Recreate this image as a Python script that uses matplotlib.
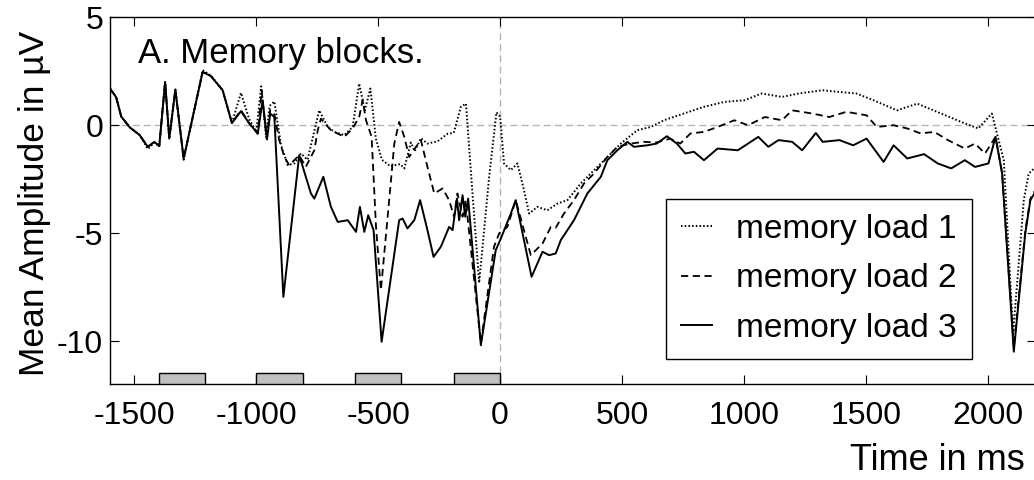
import matplotlib
matplotlib.use("Agg")
import matplotlib.pyplot as plt

plt.rcParams['font.family'] = ['Liberation Sans', 'DejaVu Sans']
plt.rcParams['axes.unicode_minus'] = False

# memory load 1 (dotted): time in ms, amplitude in uV
t_load1 = [-1600, -1575, -1554, -1519, -1479, -1445, -1418, -1398, -1374, -1357,
           -1332, -1298, -1220, -1186, -1138, -1100, -1063, -1030, -1000, -980,
           -960, -945, -926, -899, -871, -844, -817, -790, -742, -707,
           -680, -639, -605, -578, -555, -532, -510, -485, -450, -410,
           -393, -366, -350, -325, -298, -257, -216, -190, -161, -140,
           -113, -86, -45, -15, 0, 16, 44, 71, 98, 119,
           153, 194, 235, 276, 331, 386, 440, 495, 563, 618,
           672, 753, 836, 920, 1003, 1073, 1156, 1225, 1323, 1392,
           1461, 1531, 1628, 1711, 1809, 1892, 1961, 2017, 2066, 2104,
           2148, 2168, 2200]
v_load1 = [1.7, 1.3, 0.4, -0.1, -0.45, -1.1, -0.8, -0.97, 2.0, -0.62,
           1.65, -1.6, 2.55, 2.3, 1.62, 0.1, 1.5, 0.3, -0.3, 1.8,
           -0.5, 0.9, 1.1, -0.9, -1.85, -1.77, -1.31, -1.6, 0.69, -0.08,
           -0.31, -0.46, -0.08, 1.93, 0.69, 1.7, -0.6, -1.6, -1.9, -1.8,
           -2.0, -0.8, -1.2, -0.6, -0.85, -0.75, -0.4, -0.35, 0.85, 1.0,
           -3.2, -7.3, -2.4, 0.6, 0.4, -1.77, -2.08, -1.77, -3.01, -4.09,
           -3.78, -3.94, -3.63, -3.47, -2.7, -2.08, -1.47, -0.85, -0.23, -0.08,
           0.23, 0.54, 0.85, 1.08, 1.16, 1.47, 1.31, 1.47, 1.62, 1.54,
           1.47, 1.16, 0.69, 1.0, 0.54, 0.15, -0.15, 0.54, -1.62, -9.65,
           -3.47, -2.24, -1.9]

# memory load 2 (dashed)
t_load2 = [-1600, -1575, -1554, -1519, -1479, -1445, -1418, -1398, -1374, -1357,
           -1332, -1298, -1220, -1186, -1138, -1100, -1063, -1030, -994, -978,
           -958, -943, -926, -906, -885, -865, -824, -797, -762, -748,
           -735, -694, -639, -605, -578, -564, -550, -527, -509, -489,
           -455, -434, -414, -393, -373, -345, -325, -298, -270, -236,
           -209, -189, -175, -154, -141, -79, -25, -4, 30, 64,
           126, 174, 208, 228, 262, 303, 344, 385, 440, 481,
           536, 590, 642, 698, 739, 781, 836, 892, 961, 1017,
           1086, 1156, 1198, 1281, 1350, 1420, 1503, 1545, 1614, 1670,
           1725, 1781, 1837, 1906, 1948, 1989, 2032, 2059, 2107, 2154,
           2175, 2200]
v_load2 = [1.7, 1.3, 0.4, -0.1, -0.45, -1.0, -0.77, -0.97, 2.0, -0.62,
           1.65, -1.54, 2.47, 2.27, 1.62, 0.1, 0.7, 0.1, -0.4, 1.6,
           -0.6, 0.7, 0.5, -0.69, -1.47, -1.85, -1.39, -1.93, -1.16, -0.23,
           0.3, -0.23, -0.54, -0.15, 0.38, 1.16, 0.23, -0.54, -4.71, -7.64,
           -3.47, -0.85, 0.15, -0.54, -1.47, -1.0, -0.69, -1.93, -3.16, -2.93,
           -3.47, -4.24, -3.16, -4.24, -3.47, -10.1, -5.63, -5.01, -4.71, -3.47,
           -6.02, -5.48, -4.71, -4.75, -4.09, -3.47, -2.7, -2.24, -1.47, -1.0,
           -0.85, -0.77, -0.8, -0.62, -0.85, -0.38, -0.31, -0.08, 0.23, 0.0,
           0.38, 0.23, 0.69, 0.54, 0.38, 0.62, 0.46, -0.08, 0.0, -0.15,
           -0.38, -0.31, -0.69, -1.08, -0.85, -1.31, -0.54, -2.2, -10.3, -4.9,
           -3.4, -2.9]

# memory load 3 (solid)
t_load3 = [-1600, -1575, -1554, -1519, -1479, -1445, -1418, -1398, -1374, -1357,
           -1332, -1298, -1220, -1186, -1138, -1100, -1063, -1030, -994, -974,
           -956, -943, -926, -889, -824, -776, -762, -725, -694, -666,
           -625, -591, -575, -557, -541, -519, -486, -414, -400, -380,
           -352, -328, -298, -273, -243, -209, -195, -177, -168, -154,
           -143, -131, -79, -18, 3, 44, 64, 129, 174, 201,
           228, 249, 303, 358, 413, 440, 481, 522, 549, 604,
           642, 684, 725, 760, 795, 836, 892, 975, 1059, 1100,
           1142, 1198, 1239, 1295, 1323, 1392, 1448, 1503, 1573, 1614,
           1670, 1739, 1795, 1850, 1906, 1948, 2003, 2032, 2059, 2107,
           2154, 2175, 2200]
v_load3 = [1.7, 1.3, 0.4, -0.1, -0.45, -1.0, -0.77, -0.97, 2.0, -0.62,
           1.65, -1.54, 2.47, 2.27, 1.62, 0.1, 0.65, 0.1, -0.38, 1.16,
           -0.66, 0.54, 0.38, -7.95, -1.39, -3.16, -3.4, -2.39, -3.78, -4.48,
           -4.4, -4.94, -3.78, -4.94, -4.17, -4.86, -10.03, -4.4, -4.32, -4.78,
           -4.4, -3.47, -4.86, -6.1, -5.63, -4.71, -4.86, -3.4, -4.4, -3.24,
           -4.24, -3.4, -10.19, -5.79, -5.25, -4.09, -3.47, -7.02, -5.86, -6.02,
           -5.94, -5.32, -4.4, -3.16, -2.39, -1.62, -1.16, -0.77, -1.0, -0.93,
           -0.85, -0.51, -0.85, -1.31, -1.23, -1.62, -1.08, -1.16, -0.54, -1.0,
           -0.69, -0.77, -1.16, -0.36, -0.77, -0.69, -0.93, -0.62, -1.7, -0.93,
           -1.54, -1.34, -1.77, -2.0, -1.62, -1.93, -1.77, -0.54, -2.24, -10.49,
           -5.01, -3.47, -3.0]

labels = ['memory load 1', 'memory load 2', 'memory load 3']

# stimulus presentation periods (grey boxes on the time axis)
stim_start = [-1400, -1000, -595, -190]
stim_end = [-1210, -810, -405, 0]

fig = plt.figure(figsize=(10.34, 4.8), dpi=100)
ax = fig.add_axes([0.1064, 0.1994, 0.896, 0.7646])

# zero reference lines
ax.axhline(0, color='#b4b4b4', lw=1, ls=(0, (5, 3)), zorder=1)
ax.axvline(0, color='#b4b4b4', lw=1, ls=(0, (5, 3)), zorder=1)

ax.plot(t_load1, v_load1, color='black', lw=1.4, ls=(0, (0.8, 1.1)), label=labels[0])
ax.plot(t_load2, v_load2, color='black', lw=1.3, ls=(0, (4, 2.5)), label=labels[1])
ax.plot(t_load3, v_load3, color='black', lw=1.4, ls='-', label=labels[2])

widths = [e - s for s, e in zip(stim_start, stim_end)]
ax.bar(stim_start, 0.53, width=widths, bottom=-12, align='edge',
       color='#c0c0c0', edgecolor='black', lw=1, zorder=3)

ax.set_xlim(-1600, 2200)
ax.set_ylim(-12, 5)
ax.set_xticks([-1500, -1000, -500, 0, 500, 1000, 1500, 2000])
ax.set_yticks([-10, -5, 0, 5])
ax.tick_params(direction='in', top=True, right=True, length=6.5, width=0.8,
               labelsize=23, colors='black')
ax.tick_params(axis='x', pad=12)
ax.tick_params(axis='y', pad=5)
for sp in ax.spines.values():
    sp.set_color('black')
    sp.set_linewidth(1)

ax.set_ylabel('Mean Amplitude in µV', fontsize=25.5)
ax.yaxis.set_label_coords(-0.064, 0.494)
ax.set_xlabel('Time in ms', fontsize=26)
ax.xaxis.set_label_coords(0.8926, -0.2335)
ax.xaxis.label.set_verticalalignment('baseline')

ax.text(0.0299, 0.8747, 'A. Memory blocks.', transform=ax.transAxes,
        fontsize=25, va='baseline', ha='left')

leg = ax.legend(loc='upper left', bbox_to_anchor=(0.600, 0.505), borderaxespad=0,
                fontsize=24, handlelength=0.93, handletextpad=0.72,
                labelspacing=0.55, borderpad=0.45, fancybox=False, framealpha=1)
leg.get_frame().set_edgecolor('black')
leg.get_frame().set_linewidth(1)

fig.savefig('out.png', dpi=100)
